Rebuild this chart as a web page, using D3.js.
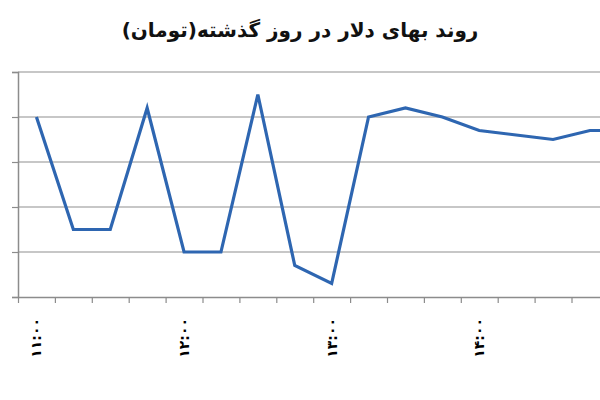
<!DOCTYPE html>
<html>
<head>
<meta charset="utf-8">
<script src="https://cdn.jsdelivr.net/npm/d3@7"></script>
<style>
  body { margin: 0; background: #fff; }
  svg { display: block; }
</style>
</head>
<body>
<div id="container"></div>
<script>
// quarter-hour times, only the full hours inside the picture get a label
const times = ['۱۱:۰۰', '۱۱:۱۵', '۱۱:۳۰', '۱۱:۴۵', '۱۲:۰۰', '۱۲:۱۵', '۱۲:۳۰', '۱۲:۴۵',
    '۱۳:۰۰', '۱۳:۱۵', '۱۳:۳۰', '۱۳:۴۵', '۱۴:۰۰', '۱۴:۱۵', '۱۴:۳۰', '۱۴:۴۵', '۱۵:۰۰'];
const labelTimes = ['۱۱:۰۰', '۱۲:۰۰', '۱۳:۰۰', '۱۴:۰۰'];
const prices = [3500, 3475, 3475, 3502, 3470, 3470, 3505, 3467,
    3463, 3500, 3502, 3500, 3497, 3496, 3495, 3497, 3497];
const yTicks = [3460, 3470, 3480, 3490, 3500, 3510];
const title = 'روند بهای دلار در روز گذشته(تومان)';

const width = 600;
const height = 400;

const svg = d3.select('#container').append('svg')
    .attr('width', width)
    .attr('height', height);

const left = 18;
const bottom = 297;
const step = 36.9;

const x = d3.scaleBand()
    .domain(times)
    .range([left, left + step * times.length]);

const xi = d3.scaleLinear()
    .domain([0, times.length])
    .range([left, left + step * times.length]);

const y = d3.scaleLinear()
    .domain([3460, 3510])
    .range([bottom, 72]);

// gridlines
svg.append('g')
    .selectAll('line')
    .data(yTicks.slice(1))
    .join('line')
    .attr('x1', left)
    .attr('x2', width)
    .attr('y1', d => y(d))
    .attr('y2', d => y(d))
    .style('stroke', '#b4b4b4')
    .style('stroke-width', 1.6);

// y axis, labels fall outside the picture so leave them off
const yAxis = svg.append('g')
    .attr('transform', `translate(${left},0)`)
    .call(d3.axisLeft(y).tickValues(yTicks).tickSize(6).tickFormat(''));
yAxis.select('.domain').style('stroke', '#8c8c8c').style('stroke-width', 1.5);
yAxis.selectAll('.tick line').style('stroke', '#8c8c8c').style('stroke-width', 1.2);

// x axis with ticks between categories
const xAxis = svg.append('g')
    .attr('transform', `translate(0,${bottom})`)
    .call(d3.axisBottom(xi).tickValues(d3.range(times.length + 1)).tickSize(6).tickSizeOuter(0).tickFormat(''));
xAxis.select('.domain').style('stroke', '#8c8c8c').style('stroke-width', 1.5);
xAxis.selectAll('.tick line').style('stroke', '#8c8c8c').style('stroke-width', 1.2);

// rotated time labels
svg.append('g')
    .selectAll('text')
    .data(labelTimes)
    .join('text')
    .attr('transform', d => `translate(${x(d) + x.bandwidth() / 2},318) rotate(-90)`)
    .attr('text-anchor', 'end')
    .attr('dy', '0.35em')
    .style('font-family', 'DejaVu Sans')
    .style('font-size', '14px')
    .style('font-weight', 'bold')
    .style('fill', '#000')
    .text(d => d);

// price line
const line = d3.line()
    .x((d, i) => x(times[i]) + x.bandwidth() / 2)
    .y(d => y(d));

svg.append('path')
    .datum(prices)
    .attr('d', line)
    .style('fill', 'none')
    .style('stroke', '#2e66b1')
    .style('stroke-width', 3.2)
    .style('stroke-linejoin', 'miter');

svg.append('text')
    .attr('x', width / 2)
    .attr('y', 37)
    .attr('text-anchor', 'middle')
    .attr('direction', 'rtl')
    .style('font-family', 'DejaVu Sans')
    .style('font-size', '20px')
    .style('font-weight', 'bold')
    .style('fill', '#111')
    .text(title);
</script>
</body>
</html>
